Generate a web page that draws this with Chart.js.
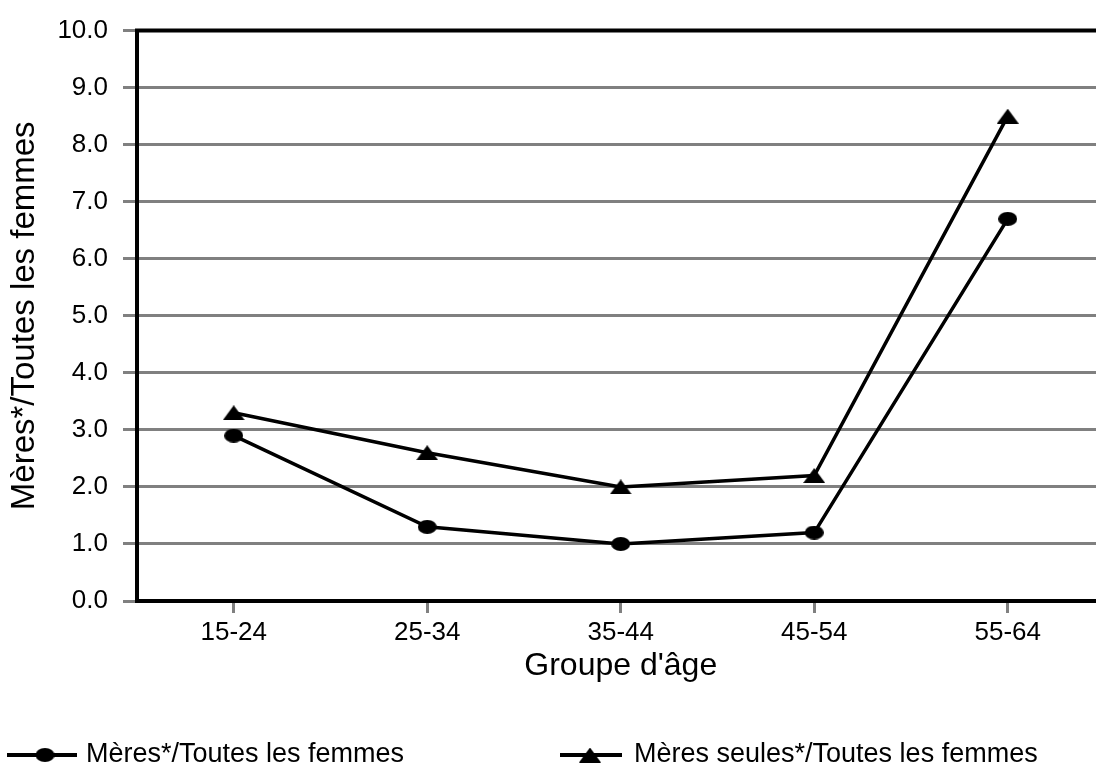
<!DOCTYPE html>
<html>
<head>
<meta charset="utf-8">
<script src="https://cdn.jsdelivr.net/npm/chart.js@4.4.1/dist/chart.umd.min.js"></script>
<style>
  html, body { margin: 0; padding: 0; background: #fff; overflow: hidden; width: 1096px; height: 773px; }
  canvas { display: block; }
</style>
</head>
<body>
<canvas id="c" width="1118" height="773" style="width:1118px;height:773px"></canvas>
<script>
const categories = ['15-24', '25-34', '35-44', '45-54', '55-64'];
const seriesNames = ['Mères*/Toutes les femmes', 'Mères seules*/Toutes les femmes'];
const meres = [2.9, 1.3, 1.0, 1.2, 6.7];
const meresSeules = [3.3, 2.6, 2.0, 2.2, 8.5];
const yTitle = 'Mères*/Toutes les femmes';
const xTitle = "Groupe d'âge";

const FONT = "'Liberation Sans', Arial, sans-serif";

function makeEllipse(w, h) {
  const c = document.createElement('canvas');
  c.width = w; c.height = h;
  const g = c.getContext('2d');
  g.fillStyle = '#000';
  g.beginPath();
  g.ellipse(w / 2, h / 2, w / 2, h / 2, 0, 0, Math.PI * 2);
  g.fill();
  return c;
}
function makeTriangle(w, h) {
  const c = document.createElement('canvas');
  c.width = w; c.height = h;
  const g = c.getContext('2d');
  g.fillStyle = '#000';
  g.beginPath();
  g.moveTo(w / 2, 0);
  g.lineTo(w, h);
  g.lineTo(0, h);
  g.closePath();
  g.fill();
  return c;
}
const circ = makeEllipse(19, 14);
const tri = makeTriangle(22, 15);

const frameLegend = {
  id: 'frameLegend',
  afterDatasetsDraw(chart) {
    const ctx = chart.ctx;
    const a = chart.chartArea;
    ctx.save();
    ctx.strokeStyle = '#000';
    ctx.lineWidth = 4;
    ctx.beginPath();
    ctx.moveTo(a.left - 2, a.top);
    ctx.lineTo(a.right, a.top);
    ctx.stroke();
    ctx.restore();
  },
  afterDraw(chart) {
    const ctx = chart.ctx;
    ctx.save();
    const ly = 755;
    const items = [
      { x0: 7, x1: 77, mx: 45, img: circ, text: seriesNames[0], tx: 86 },
      { x0: 560, x1: 622, mx: 590, img: tri, text: seriesNames[1], tx: 634 }
    ];
    items.forEach(it => {
      ctx.strokeStyle = '#000';
      ctx.lineWidth = 4;
      ctx.beginPath();
      ctx.moveTo(it.x0, ly);
      ctx.lineTo(it.x1, ly);
      ctx.stroke();
      ctx.drawImage(it.img, it.mx - it.img.width / 2, ly - it.img.height / 2);
      ctx.fillStyle = '#000';
      ctx.font = '27px ' + FONT;
      ctx.textBaseline = 'middle';
      ctx.textAlign = 'left';
      ctx.fillText(it.text, it.tx, ly);
    });
    ctx.restore();
  }
};

new Chart(document.getElementById('c'), {
  type: 'line',
  data: {
    labels: categories,
    datasets: [
      {
        label: seriesNames[0],
        data: meres,
        borderColor: '#000',
        backgroundColor: '#000',
        borderWidth: 3.5,
        pointStyle: circ,
        pointRadius: 10,
        tension: 0,
        fill: false
      },
      {
        label: seriesNames[1],
        data: meresSeules,
        borderColor: '#000',
        backgroundColor: '#000',
        borderWidth: 3.5,
        pointStyle: tri,
        pointRadius: 10,
        tension: 0,
        fill: false
      }
    ]
  },
  options: {
    responsive: false,
    maintainAspectRatio: false,
    animation: false,
    devicePixelRatio: 1,
    layout: { padding: { top: 28, right: 0, bottom: 88, left: 0 } },
    plugins: {
      legend: { display: false },
      tooltip: { enabled: false }
    },
    scales: {
      x: {
        type: 'category',
        offset: true,
        grid: {
          offset: false,
          drawOnChartArea: false,
          drawTicks: true,
          tickLength: 12,
          color: '#808080',
          lineWidth: 3
        },
        border: { color: '#000', width: 4 },
        ticks: {
          color: '#000',
          font: { family: FONT, size: 26 },
          padding: 4,
          maxRotation: 0,
          autoSkip: false
        },
        title: {
          display: true,
          text: xTitle,
          color: '#000',
          font: { family: FONT, size: 32 },
          padding: { top: 0, bottom: 0 }
        },
        afterFit(scale) { scale.height = 84; }
      },
      y: {
        min: 0,
        max: 10,
        grid: {
          color: '#808080',
          lineWidth: 3,
          tickLength: 14,
          drawTicks: true
        },
        border: { color: '#000', width: 4 },
        ticks: {
          stepSize: 1,
          color: '#000',
          font: { family: FONT, size: 26 },
          padding: 15,
          callback: v => Number(v).toFixed(1)
        },
        title: {
          display: true,
          text: yTitle,
          color: '#000',
          font: { family: FONT, size: 33 },
          padding: { top: 5, bottom: 0 }
        },
        afterFit(scale) { scale.width = 137; }
      }
    }
  },
  plugins: [frameLegend]
});
</script>
</body>
</html>
